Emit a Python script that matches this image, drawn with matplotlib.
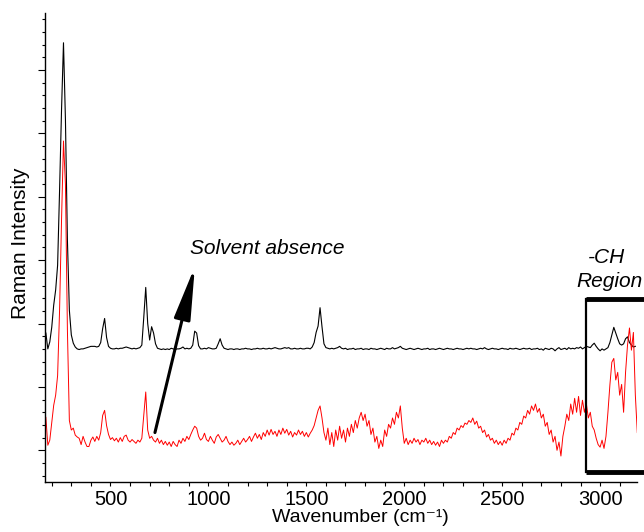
#!/usr/bin/env python3

# INFRASTRUCTURE
import matplotlib
matplotlib.use('Agg')
import matplotlib.pyplot as plt
import numpy as np
from matplotlib.ticker import MultipleLocator

plt.rcParams['font.family'] = ['Liberation Sans', 'DejaVu Sans']

# DATA (one value every 10 cm-1 from 170 to 3190)
wavenumber = np.arange(170, 3200, 10)

black_spectrum = [
    1.85, 1.60, 1.71, 1.94, 2.29, 2.53, 2.92, 4.10, 5.37, 6.43,
    5.21, 3.32, 2.21, 1.82, 1.69, 1.63, 1.60, 1.59, 1.60, 1.60,
    1.61, 1.62, 1.63, 1.64, 1.64, 1.64, 1.63, 1.64, 1.70, 1.92,
    2.08, 1.78, 1.64, 1.61, 1.60, 1.60, 1.61, 1.60, 1.61, 1.61,
    1.62, 1.63, 1.62, 1.61, 1.60, 1.61, 1.60, 1.61, 1.62, 1.66,
    2.10, 2.57, 2.00, 1.74, 1.95, 1.85, 1.68, 1.61, 1.60, 1.59,
    1.60, 1.59, 1.60, 1.59, 1.61, 1.60, 1.59, 1.60, 1.60, 1.61,
    1.63, 1.60, 1.61, 1.60, 1.61, 1.66, 1.88, 1.85, 1.65, 1.60,
    1.60, 1.61, 1.60, 1.62, 1.61, 1.60, 1.60, 1.61, 1.68, 1.76,
    1.66, 1.61, 1.60, 1.59, 1.60, 1.60, 1.59, 1.60, 1.60, 1.59,
    1.60, 1.60, 1.61, 1.60, 1.60, 1.59, 1.60, 1.60, 1.61, 1.60,
    1.60, 1.61, 1.60, 1.60, 1.61, 1.60, 1.61, 1.62, 1.61, 1.60,
    1.60, 1.61, 1.62, 1.61, 1.62, 1.60, 1.60, 1.61, 1.60, 1.60,
    1.61, 1.60, 1.60, 1.61, 1.61, 1.60, 1.63, 1.70, 1.86, 1.96,
    2.25, 1.95, 1.68, 1.62, 1.61, 1.60, 1.61, 1.60, 1.61, 1.62,
    1.64, 1.61, 1.60, 1.61, 1.59, 1.60, 1.60, 1.61, 1.59, 1.60,
    1.60, 1.61, 1.59, 1.60, 1.60, 1.59, 1.61, 1.60, 1.60, 1.59,
    1.60, 1.61, 1.60, 1.59, 1.61, 1.60, 1.60, 1.62, 1.60, 1.61,
    1.62, 1.64, 1.61, 1.60, 1.59, 1.60, 1.61, 1.60, 1.59, 1.60,
    1.61, 1.60, 1.59, 1.60, 1.60, 1.61, 1.59, 1.60, 1.60, 1.59,
    1.60, 1.61, 1.60, 1.59, 1.60, 1.61, 1.60, 1.60, 1.59, 1.60,
    1.61, 1.60, 1.60, 1.59, 1.60, 1.61, 1.60, 1.61, 1.60, 1.60,
    1.59, 1.60, 1.61, 1.60, 1.62, 1.60, 1.59, 1.60, 1.61, 1.60,
    1.60, 1.59, 1.60, 1.61, 1.60, 1.60, 1.59, 1.61, 1.60, 1.60,
    1.61, 1.60, 1.59, 1.60, 1.61, 1.60, 1.60, 1.61, 1.59, 1.60,
    1.60, 1.61, 1.59, 1.60, 1.58, 1.61, 1.60, 1.59, 1.61, 1.60,
    1.57, 1.60, 1.62, 1.59, 1.60, 1.61, 1.59, 1.62, 1.60, 1.61,
    1.60, 1.62, 1.61, 1.63, 1.60, 1.62, 1.64, 1.63, 1.62, 1.66,
    1.69, 1.64, 1.60, 1.57, 1.60, 1.58, 1.60, 1.62, 1.70, 1.82,
    1.94, 1.85, 1.76, 1.68, 1.66, 1.68, 1.76, 1.79, 1.70, 1.66,
    1.63, 1.64, np.nan,
]

red_spectrum = [
    0.52, 0.08, 0.16, 0.44, 0.71, 0.87, 1.18, 2.21, 3.63, 4.88,
    4.19, 1.90, 0.47, 0.32, 0.35, 0.24, 0.21, 0.19, 0.09, 0.22,
    0.13, 0.06, 0.06, 0.16, 0.21, 0.14, 0.22, 0.16, 0.28, 0.55,
    0.63, 0.39, 0.25, 0.17, 0.20, 0.15, 0.19, 0.13, 0.20, 0.14,
    0.22, 0.24, 0.16, 0.13, 0.17, 0.14, 0.11, 0.16, 0.13, 0.19,
    0.55, 0.92, 0.32, 0.19, 0.22, 0.16, 0.13, 0.19, 0.11, 0.16,
    0.09, 0.14, 0.08, 0.13, 0.06, 0.14, 0.09, 0.06, 0.16, 0.11,
    0.19, 0.14, 0.22, 0.17, 0.25, 0.32, 0.38, 0.35, 0.22, 0.16,
    0.19, 0.27, 0.17, 0.14, 0.22, 0.16, 0.11, 0.21, 0.25, 0.19,
    0.13, 0.16, 0.22, 0.14, 0.09, 0.13, 0.08, 0.11, 0.16, 0.09,
    0.14, 0.19, 0.13, 0.17, 0.22, 0.14, 0.21, 0.27, 0.19, 0.25,
    0.17, 0.28, 0.22, 0.32, 0.24, 0.33, 0.25, 0.30, 0.22, 0.32,
    0.25, 0.35, 0.27, 0.33, 0.24, 0.30, 0.21, 0.28, 0.24, 0.32,
    0.25, 0.30, 0.22, 0.28, 0.21, 0.27, 0.32, 0.39, 0.51, 0.63,
    0.70, 0.51, 0.28, 0.16, 0.35, 0.09, 0.28, 0.06, 0.32, 0.16,
    0.38, 0.19, 0.32, 0.13, 0.35, 0.22, 0.41, 0.28, 0.47, 0.35,
    0.51, 0.60, 0.47, 0.57, 0.38, 0.47, 0.25, 0.35, 0.13, 0.22,
    0.03, 0.16, 0.06, 0.32, 0.22, 0.41, 0.35, 0.51, 0.41, 0.60,
    0.51, 0.70, 0.35, 0.11, 0.19, 0.09, 0.16, 0.11, 0.19, 0.13,
    0.17, 0.09, 0.16, 0.13, 0.19, 0.11, 0.16, 0.09, 0.14, 0.08,
    0.13, 0.06, 0.16, 0.11, 0.16, 0.13, 0.22, 0.19, 0.28, 0.25,
    0.35, 0.32, 0.39, 0.36, 0.43, 0.41, 0.47, 0.44, 0.51, 0.41,
    0.46, 0.35, 0.38, 0.28, 0.32, 0.21, 0.25, 0.16, 0.19, 0.11,
    0.16, 0.09, 0.14, 0.08, 0.16, 0.11, 0.19, 0.16, 0.27, 0.24,
    0.35, 0.32, 0.44, 0.41, 0.54, 0.51, 0.63, 0.57, 0.70, 0.63,
    0.73, 0.60, 0.66, 0.51, 0.57, 0.38, 0.44, 0.25, 0.32, 0.13,
    0.22, 0.00, 0.13, -0.09, 0.22, 0.38, 0.57, 0.47, 0.73, 0.57,
    0.82, 0.60, 0.85, 0.55, 0.79, 0.60, 0.73, 0.51, 0.60, 0.38,
    0.32, 0.19, 0.09, 0.05, 0.16, 0.03, 0.22, 0.60, 1.03, 1.39,
    1.45, 1.11, 1.23, 0.87, 1.04, 0.60, 1.23, 1.66, 1.93, 1.58,
    1.86, 0.87, 0.28,
]

x_ticks = [500, 1000, 1500, 2000, 2500, 3000]


# FUNCTIONS

# Draw both spectra with the annotations of the reference
def create_spectra_plot():
    fig = plt.figure(figsize=(6.44, 5.32), dpi=100)
    ax = fig.add_axes([0.0703, 0.094, 0.919, 0.8816])

    ax.plot(wavenumber, black_spectrum, color='black', lw=0.8)
    ax.plot(wavenumber, red_spectrum, color='#ff0000', lw=0.7)

    ax.set_xlim(167, 3189)
    ax.set_ylim(-0.5, 6.9)

    for side in ['top', 'right']:
        ax.spines[side].set_visible(False)
    for side in ['left', 'bottom']:
        ax.spines[side].set_linewidth(1.0)

    ax.set_xticks(x_ticks)
    ax.xaxis.set_minor_locator(MultipleLocator(100))
    ax.yaxis.set_major_locator(MultipleLocator(1))
    ax.yaxis.set_minor_locator(MultipleLocator(0.2))
    ax.tick_params(axis='x', which='both', direction='out', length=3, width=0.8,
                   labelsize=14.5, pad=2.5)
    ax.tick_params(axis='y', which='major', direction='out', length=4.8, width=0.8,
                   labelleft=False)
    ax.tick_params(axis='y', which='minor', direction='out', length=2.4, width=0.8)

    ax.set_ylabel('Raman Intensity', fontsize=15)
    ax.yaxis.set_label_coords(-0.025, 0.51)
    ax.set_xlabel('Wavenumber (cm\u207b\u00b9)', fontsize=14)
    ax.xaxis.set_label_coords(0.532, -0.0575)

    # arrow and its label
    ax.annotate('', xy=(931, 2.9), xytext=(727, 0.28),
                arrowprops=dict(arrowstyle='-|>,head_length=1.6,head_width=0.25',
                                mutation_scale=20, lw=2.2, color='black',
                                shrinkA=0, shrinkB=0), zorder=5)
    ax.text(906, 3.1, 'Solvent absence', fontsize=15, style='italic',
            ha='left', va='baseline')

    # -CH region box, open past the right edge
    ax.text(3035, 2.95, '-CH', fontsize=15, style='italic', ha='center', va='baseline')
    ax.text(3050, 2.58, 'Region', fontsize=15, style='italic', ha='center', va='baseline')
    ax.plot([2926, 2926], [-0.348, 2.395], color='black', lw=1.6, clip_on=False)
    ax.plot([2926, 3400], [2.395, 2.395], color='black', lw=3.5, clip_on=False,
            solid_capstyle='butt')
    ax.plot([2926, 3400], [-0.348, -0.348], color='black', lw=3.5, clip_on=False,
            solid_capstyle='butt')

    return fig


# Save plot to file
def save_plot(fig):
    fig.savefig('out.png', dpi=100)
    plt.close(fig)


if __name__ == "__main__":
    save_plot(create_spectra_plot())
